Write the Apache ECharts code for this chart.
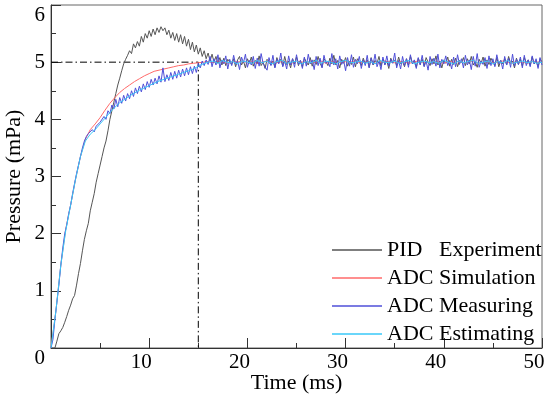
<!DOCTYPE html>
<html>
<head>
<meta charset="utf-8">
<script src="https://cdn.jsdelivr.net/npm/echarts@6/dist/echarts.min.js"></script>
<style>
html,body{margin:0;padding:0;background:#fff;}
#chart{width:550px;height:397px;}
</style>
</head>
<body>
<div id="chart"></div>
<script>
// ---- data ----
const seriesNames = ['PID   Experiment', 'ADC Simulation', 'ADC Measuring', 'ADC Estimating'];
const xTicks = [0, 10, 20, 30, 40, 50];
const yTicks = [0, 1, 2, 3, 4, 5, 6];

// sampling of each recorded series (ms)
const pidStep = 0.2;
const simStep = 0.5;
const measStep = 0.2;
const estStep = 0.5;

// reference lines: set point and settling time
const setPoint = 5;
const settlingTime = 15.0;

const pidExperiment = [
  0, 0, 0, 0.12, 0.25, 0.3, 0.36, 0.45, 0.55, 0.66,
  0.75, 0.86, 0.92, 1.1, 1.3, 1.48, 1.7, 1.9, 2.05, 2.18,
  2.4, 2.55, 2.7, 2.9, 3.05, 3.2, 3.35, 3.5, 3.62, 3.8,
  4.0, 4.15, 4.3, 4.45, 4.6, 4.72, 4.85, 4.97, 5.05, 5.12,
  5.2, 5.15, 5.32, 5.25, 5.36, 5.28, 5.45, 5.35, 5.5, 5.42,
  5.55, 5.45, 5.58, 5.48, 5.6, 5.52, 5.62, 5.55, 5.6, 5.48,
  5.56, 5.42, 5.52, 5.38, 5.5, 5.35, 5.48, 5.32, 5.45, 5.28,
  5.4, 5.22, 5.35, 5.18, 5.3, 5.14, 5.25, 5.1, 5.2, 5.06,
  5.16, 5.02, 5.14, 5.0, 5.1, 4.98, 5.08, 4.95, 5.07, 4.94,
  5.05,
  5.08, 4.96, 5.06, 4.92, 5.04, 5.1, 4.95, 5.02, 4.9, 5.06,
  4.98, 5.09, 4.93, 5.03, 4.97, 5.11, 4.94, 5.0, 4.89, 5.05,
  5.07, 4.95, 5.02, 4.91, 5.08, 4.99, 5.05, 4.93, 5.1, 4.96,
  5.02, 4.9, 5.06, 4.97, 5.09, 4.94, 5.03, 4.92, 5.07, 5.0,
  4.95, 5.08, 4.93, 5.04, 4.96, 5.1, 4.98, 4.91, 5.06, 5.01,
  4.94, 5.07, 4.97, 5.12, 4.95, 5.03, 4.9, 5.05, 4.98, 5.08,
  4.93, 5.02, 4.96, 5.09, 4.92, 5.06, 5.0, 4.94, 5.07, 4.97,
  5.04, 4.91, 5.08, 4.95, 5.03, 4.98, 5.1, 4.93, 5.05, 4.96,
  5.02, 4.89, 5.07, 4.99, 5.04, 4.94, 5.09, 4.97, 5.01, 4.92,
  5.06, 4.95, 5.1, 4.98, 5.03, 4.91, 5.07, 4.96, 5.05, 4.93,
  5.08, 5.0, 4.94, 5.06, 4.97, 5.11, 4.95, 5.02, 4.9, 5.04,
  4.98, 5.09, 4.93, 5.05, 4.96, 5.07, 4.92, 5.03, 4.99, 5.08,
  4.94, 5.06, 4.97, 5.1, 4.95, 5.01, 4.91, 5.05, 4.98, 5.09,
  4.93, 5.04, 4.96, 5.07, 5.0, 4.94, 5.08, 4.92, 5.03, 4.97,
  5.06, 4.95, 5.1, 4.98, 5.02, 4.9, 5.07, 4.96, 5.05, 4.93,
  5.08, 4.99, 5.04, 4.94, 5.09, 4.97, 5.02, 4.92, 5.06, 5.0
];

const adcSimulation = [
  0, 0.65, 1.45, 2.08, 2.5, 2.95, 3.35, 3.65, 3.82, 3.92,
  4.03, 4.16, 4.28, 4.38, 4.47, 4.54, 4.6, 4.66, 4.71, 4.76,
  4.8, 4.84, 4.86, 4.88, 4.9, 4.92, 4.94, 4.95, 4.97, 4.98,
  4.99,
  5.0, 5.01, 4.99, 5.02, 5.0, 4.98, 5.01, 5.0, 5.02, 4.99,
  5.01, 4.98, 5.0, 5.02, 5.0, 4.99, 5.01, 5.0, 4.98, 5.02,
  5.0, 5.01, 4.99, 5.0, 5.02, 4.98, 5.01, 5.0, 4.99, 5.01,
  5.0, 5.02, 4.99, 5.0, 5.01, 4.98, 5.0, 5.02, 5.0, 4.99,
  5.01, 5.0, 4.98, 5.01, 5.02, 5.0, 4.99, 5.01, 5.0, 4.98,
  5.02, 5.0, 5.01, 4.99, 5.0, 5.02, 4.98, 5.0, 5.01, 4.99,
  5.0, 5.02, 5.0, 4.99, 5.01, 5.0, 4.98, 5.01, 5.0, 5.0
];

const adcMeasuring = [
  0, 0.15, 0.5, 0.8, 1.1, 1.45, 1.75, 2.0, 2.15, 2.35,
  2.5, 2.7, 2.88, 3.05, 3.2, 3.35, 3.5, 3.62, 3.7, 3.75,
  3.72, 3.82, 3.78, 3.88, 3.85, 3.95, 3.92, 4.05, 4.0, 4.15,
  4.1, 4.25, 4.18, 4.35, 4.22, 4.38, 4.28, 4.42, 4.32, 4.45,
  4.36, 4.5, 4.4, 4.55, 4.45, 4.58, 4.48, 4.62, 4.52, 4.66,
  4.56, 4.7, 4.6, 4.72, 4.62, 4.76, 4.65, 4.9, 4.66, 4.78,
  4.68, 4.82, 4.7, 4.84, 4.72, 4.86, 4.74, 4.88, 4.76, 4.9,
  4.78, 4.92, 4.8, 4.93, 4.82, 4.98, 4.9, 5.02, 4.94, 5.04,
  4.96,
  5.1, 4.92, 5.06, 4.95, 5.13, 4.9, 5.04, 4.97, 5.11, 4.88,
  5.05, 4.94, 5.12, 4.96, 5.02, 4.87, 5.09, 4.99, 5.14, 4.91,
  5.03, 4.95, 5.1, 4.89, 5.07, 4.93, 5.15, 4.98, 5.01, 4.86,
  5.08, 4.94, 5.12, 4.9, 5.05, 4.97, 5.16, 4.92, 5.02, 4.88,
  5.11, 4.95, 5.06, 4.91, 5.13, 4.96, 5.03, 4.89, 5.09, 4.93,
  5.14, 4.97, 5.04, 4.87, 5.1, 4.94, 5.07, 4.9, 5.12, 4.98,
  5.02, 4.92, 5.15, 4.95, 5.06, 4.88, 5.11, 4.96, 5.03, 4.85,
  5.08, 4.93, 5.13, 4.91, 5.05, 4.97, 5.1, 4.89, 5.04, 4.94,
  5.12, 4.9, 5.07, 4.96, 5.14, 4.92, 5.02, 4.87, 5.09, 4.95,
  5.11, 4.93, 5.05, 4.98, 5.16, 4.9, 5.03, 4.88, 5.1, 4.94,
  5.06, 4.91, 5.13, 4.97, 5.04, 4.89, 5.08, 4.95, 5.12, 4.92,
  5.02, 4.86, 5.1, 4.96, 5.07, 4.93, 5.14, 4.9, 5.05, 4.97,
  5.11, 4.94, 5.03, 4.88, 5.09, 4.92, 5.13, 4.96, 5.06, 4.9,
  5.12, 4.95, 5.04, 4.87, 5.1, 4.93, 5.15, 4.91, 5.02, 4.96,
  5.08, 4.89, 5.11, 4.94, 5.06, 4.92, 5.13, 4.97, 5.03, 4.88,
  5.1, 4.95, 5.07, 4.91, 5.14, 4.93, 5.05, 4.96, 5.09, 4.9,
  5.12, 4.94, 5.04, 4.92, 5.11, 4.97, 5.06, 4.89, 5.08, 4.95
];

const adcEstimating = [
  0, 0.65, 1.45, 2.05, 2.5, 2.95, 3.35, 3.62, 3.74, 3.82,
  3.92, 4.02, 4.12, 4.21, 4.29, 4.35, 4.41, 4.46, 4.51, 4.55,
  4.59, 4.63, 4.67, 4.7, 4.73, 4.76, 4.79, 4.82, 4.85, 4.88,
  4.93, 4.97, 5.0,
  5.02, 4.98, 5.03, 4.99, 5.01, 4.97, 5.02, 5.0, 4.98, 5.03,
  4.99, 5.02, 4.97, 5.01, 5.03, 4.98, 5.0, 5.02, 4.97, 5.01,
  4.99, 5.03, 4.98, 5.02, 5.0, 4.97, 5.01, 5.03, 4.99, 5.0,
  5.02, 4.98, 5.01, 4.97, 5.03, 5.0, 4.99, 5.02, 4.98, 5.01,
  5.03, 4.97, 5.0, 5.02, 4.99, 5.01, 4.98, 5.03, 5.0, 4.97,
  5.02, 4.99, 5.01, 5.03, 4.98, 5.0, 5.02, 4.97, 5.01, 4.99,
  5.03, 4.98, 5.0, 5.02, 4.99, 5.01, 4.98, 5.0
];

// ---- build ----
function toPairs(values, step) {
  return values.map((v, i) => [+(i * step).toFixed(2), v]);
}

const FONT = 'Liberation Serif';
const colors = ['#555555', '#ff6a6a', '#4f4fd8', '#38c8f8'];

const chart = echarts.init(document.getElementById('chart'), null, {renderer: 'canvas'});

const lineSeries = (name, data, color, z) => ({
  name: name,
  type: 'line',
  data: data,
  showSymbol: false,
  symbol: 'none',
  smooth: false,
  z: z,
  lineStyle: {color: color, width: 1},
  itemStyle: {color: color},
  emphasis: {disabled: true}
});

const option = {
  animation: false,
  backgroundColor: '#ffffff',
  grid: {
    left: 51, right: 8, top: 5, bottom: 49,
    containLabel: false,
    outerBoundsMode: 'none',
    show: true, borderColor: '#666666', borderWidth: 1, backgroundColor: 'transparent'
  },
  legend: {
    orient: 'vertical',
    left: 332,
    top: 239,
    padding: 0,
    itemWidth: 50,
    itemHeight: 1.5,
    itemGap: 6,
    icon: 'rect',
    selectedMode: false,
    textStyle: {fontFamily: FONT, fontSize: 22, color: '#000', lineHeight: 21},
    data: seriesNames
  },
  xAxis: {
    type: 'value',
    min: xTicks[0],
    max: xTicks[xTicks.length - 1],
    interval: xTicks[1] - xTicks[0],
    name: 'Time (ms)',
    nameLocation: 'middle',
    nameGap: 24,
    nameMoveOverlap: false,
    nameTextStyle: {fontFamily: FONT, fontSize: 22, color: '#000'},
    axisLine: {show: true, onZero: false, lineStyle: {color: '#333', width: 1}},
    axisTick: {show: true, inside: true, length: 10, lineStyle: {color: '#333'}},
    minorTick: {show: true, splitNumber: 2, length: 5, lineStyle: {color: '#333'}},
    splitLine: {show: false},
    axisLabel: {
      showMinLabel: false,
      fontFamily: FONT, fontSize: 21, color: '#000',
      margin: 4,
      padding: [0, 16, 0, 0]
    }
  },
  yAxis: {
    type: 'value',
    min: yTicks[0],
    max: yTicks[yTicks.length - 1],
    interval: yTicks[1] - yTicks[0],
    name: 'Pressure (mPa)',
    nameLocation: 'middle',
    nameGap: 26,
    nameMoveOverlap: false,
    nameTextStyle: {fontFamily: FONT, fontSize: 22, color: '#000'},
    axisLine: {show: true, onZero: false, lineStyle: {color: '#333', width: 1}},
    axisTick: {show: true, inside: true, length: 10, lineStyle: {color: '#333'}},
    minorTick: {show: true, splitNumber: 2, length: 5, lineStyle: {color: '#333'}},
    splitLine: {show: false},
    axisLabel: {
      fontFamily: FONT, fontSize: 21, color: '#000',
      margin: 6,
      verticalAlignMinLabel: 'top',
      verticalAlignMaxLabel: 'top'
    }
  },
  series: [
    {
      name: 'ref',
      type: 'line',
      data: [[xTicks[0], setPoint], [settlingTime, setPoint], [settlingTime, yTicks[0]]],
      showSymbol: false,
      symbol: 'none',
      z: 1,
      lineStyle: {color: '#000', width: 1, type: [7, 3, 1.5, 3]},
      emphasis: {disabled: true},
      silent: true
    },
    lineSeries(seriesNames[0], toPairs(pidExperiment, pidStep), colors[0], 2),
    lineSeries(seriesNames[1], toPairs(adcSimulation, simStep), colors[1], 3),
    lineSeries(seriesNames[2], toPairs(adcMeasuring, measStep), colors[2], 4),
    lineSeries(seriesNames[3], toPairs(adcEstimating, estStep), colors[3], 5)
  ]
};

chart.setOption(option);
</script>
</body>
</html>
